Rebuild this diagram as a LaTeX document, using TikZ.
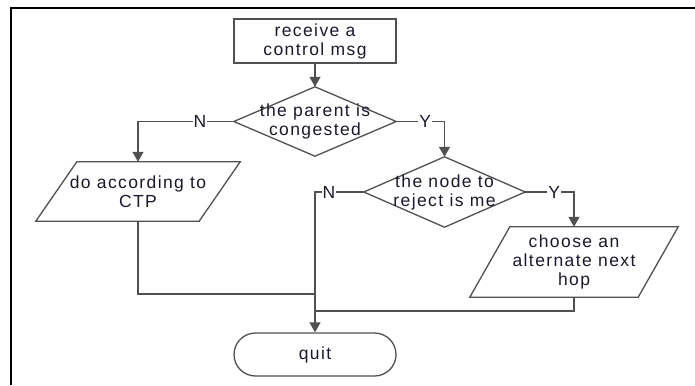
\documentclass[tikz,border=0pt]{standalone}
\usepackage{fontspec}
\setmainfont{Liberation Sans}[LetterSpace=8]
\usetikzlibrary{arrows.meta,shapes.misc,calc,backgrounds}
\definecolor{txt}{RGB}{25,25,45}
\definecolor{ln}{RGB}{80,80,80}
\begin{document}
\begin{tikzpicture}[x=1pt,y=-1pt,
  every node/.style={font=\fontsize{17.5}{19}\selectfont, text=txt, align=center},
  shp/.style={draw=ln, line width=1.3pt},
  box/.style={shp, rectangle, minimum width=162pt, minimum height=44pt, inner sep=0pt},
  area/.style={rectangle, inner sep=0pt},
  conn/.style={draw=ln, line width=1.3pt},
  arr/.style={conn, -{Triangle[length=10pt,width=11pt]}},
  lbl/.style={fill=white, inner sep=1pt}
]
\useasboundingbox (0,0) rectangle (695,385);
\draw[line width=2.3pt] (11.2,385) -- (11.2,7.8) -- (695,7.8);

\node[box] (recv) at (315,41) {receive a\\control msg};
\node[area, minimum width=162pt, minimum height=69pt] (d1) at (315,121.5) {the parent is\\congested};
\node[area, minimum width=161pt, minimum height=70pt] (d2) at (444.5,192) {the node to\\reject is me};
\node[area, minimum width=204pt, minimum height=59pt] (p1) at (138,191.5) {do according to\\CTP};
\node[area, minimum width=208pt, minimum height=70pt] (p2) at (574,262) {choose an\\alternate next\\hop};
\node[shp, rounded rectangle, minimum width=162pt, minimum height=43pt, inner sep=0pt] (quit) at (315,354.5) {quit};

\begin{scope}[on background layer]
\draw[shp] (d1.west) -- (d1.north) -- (d1.east) -- (d1.south) -- cycle;
\draw[shp] (d2.west) -- (d2.north) -- (d2.east) -- (d2.south) -- cycle;
\draw[shp] (p1.south west) -- ($(p1.south east)+(-41,0)$) -- (p1.north east) -- ($(p1.north west)+(41,0)$) -- cycle;
\draw[shp] (p2.south west) -- ($(p2.south east)+(-40,0)$) -- (p2.north east) -- ($(p2.north west)+(40,0)$) -- cycle;
\end{scope}

\draw[arr] (recv.south) -- (d1.north);
\draw[arr] (d1.west) -| node[lbl,pos=0.177]{N} (p1.north);
\draw[arr] (d1.east) -| node[lbl,pos=0.3]{Y} (d2.north);
\draw[arr] (d2.west) -| node[lbl,pos=0.357]{N} (quit.north);
\draw[arr] (d2.east) -| node[lbl,pos=0.296]{Y} (p2.north);
\coordinate (j1) at (315,294);
\coordinate (j2) at (315,311);
\draw[conn] (p1.south) |- (j1);
\draw[conn] (p2.south) |- (j2);
\end{tikzpicture}
\end{document}
